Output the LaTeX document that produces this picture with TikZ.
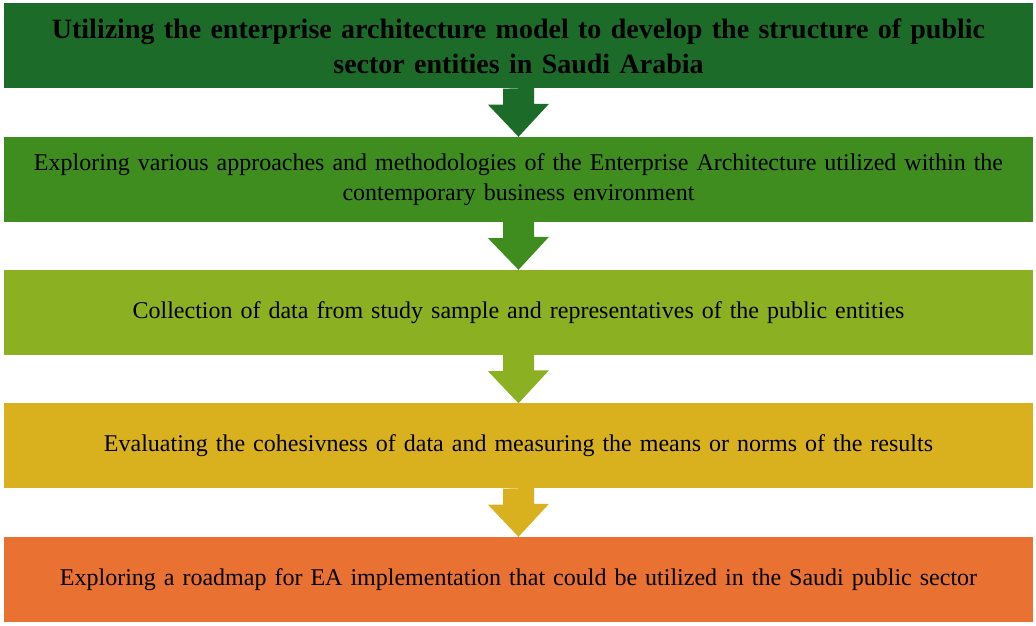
\documentclass[tikz,border=0pt]{standalone}
\usepackage{fontspec}
\setmainfont{Liberation Serif}
\usepackage{tikz}

\definecolor{stepA}{HTML}{1C6B28}
\definecolor{stepB}{HTML}{3F8C1F}
\definecolor{stepC}{HTML}{8BB021}
\definecolor{stepD}{HTML}{D9B11F}
\definecolor{stepE}{HTML}{E97132}

\tikzset{
  stagebox/.style={rectangle, minimum width=1029pt, minimum height=85pt, text width=1020pt,
    align=center, inner sep=0pt, font=\fontsize{24}{30}\selectfont},
}

\newcommand{\blockarrow}[3]{%
  \fill[#1] (#2.south) ++(-15.5,0) -- ++(0,-16) -- ++(-15,0) -- (#3.north)
    -- ++(30.5,33) -- ++(-15,0) -- ++(0,16) -- cycle;}

\begin{document}
\begin{tikzpicture}[x=1pt,y=1pt]
        \useasboundingbox (0,0) rectangle (1036,626);

        \node[stagebox,fill=stepA,font=\fontsize{28}{35}\selectfont\bfseries] (b1) at (518.5,580)
          {Utilizing the enterprise architecture model to develop the structure of public\\ sector entities in Saudi Arabia};
        \node[stagebox,fill=stepB] (b2) at (518.5,446.5)
          {Exploring various approaches and methodologies of the Enterprise Architecture utilized within the\\ contemporary business environment};
        \node[stagebox,fill=stepC] (b3) at (518.5,313.5)
          {Collection of data from study sample and representatives of the public entities};
        \node[stagebox,fill=stepD] (b4) at (518.5,180)
          {Evaluating the cohesivness of data and measuring the means or norms of the results};
        \node[stagebox,fill=stepE] (b5) at (518.5,46.5)
          {Exploring a roadmap for EA implementation that could be utilized in the Saudi public sector};

        \blockarrow{stepA}{b1}{b2}
        \blockarrow{stepB}{b2}{b3}
        \blockarrow{stepC}{b3}{b4}
        \blockarrow{stepD}{b4}{b5}

\end{tikzpicture}
\end{document}
